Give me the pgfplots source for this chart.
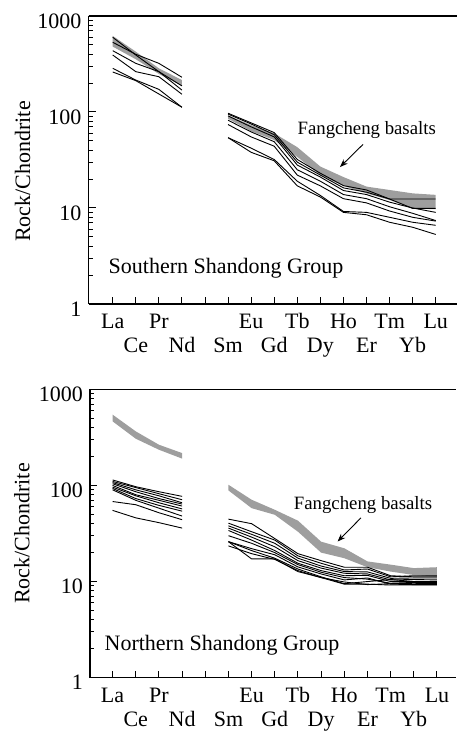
\documentclass[border=0pt]{standalone}
\usepackage{fontspec}
\setmainfont{Liberation Serif}
\usepackage{pgfplots}
\pgfplotsset{compat=1.18}
\usetikzlibrary{arrows.meta}

\pgfplotsset{
  every axis/.append style={
    scale only axis, ymode=log, ymin=1, ymax=1000,
    axis x line*=box, axis y line*=left,
    axis line style={black, line width=0.6pt},
    xtick pos=bottom, ytick pos=left, tick align=inside,
    major tick length=3.5pt, minor tick length=2pt,
    tick style={black, line width=0.5pt},
    xtick={1,3,7,9,11,13,15}, xticklabels={La,Pr,Eu,Tb,Ho,Tm,Lu},
    extra x ticks={2,4,5,6,8,10,12,14},
    extra x tick labels={Ce,Nd,{},Sm,Gd,Dy,Er,Yb},
    extra x tick style={xticklabel style={yshift=-12pt}},
    xticklabel style={anchor=base, yshift=-12.5pt, inner sep=0pt},
    ytick={1,10,100,1000}, yticklabels={1,10,100,1000},
    minor ytick={2,3,4,5,6,7,8,9,20,30,40,50,60,70,80,90,200,300,400,500,600,700,800,900},
    yticklabel style={yshift=-2.5pt},
    ylabel={Rock/Chondrite},
  },
  reeline/.style={black, line width=0.45pt, mark=none},
  reeband/.style={fill=black!38, draw=none},
}

\begin{document}
\begin{tikzpicture}[font=\fontsize{11}{13}\selectfont]
\path[use as bounding box] (0,0) rectangle (228.5pt,366pt);

% upper panel
\begin{axis}[at={(44.25pt,214pt)}, anchor=south west,
  width=184pt, height=144pt, xmin=-0.05, xmax=15.9,
  ylabel style={at={(axis description cs:-0.179,0.46)}, anchor=center}]
\addplot[reeband] coordinates {(1,620)(2,425)(3,285)(4,215)(4,187)(3,249)(2,354)(1,480)} -- cycle;
\addplot[reeband] coordinates {(6,92)(7,73)(8,60)(9,43)(10,27)(11,21)(12,16.7)(13,15.4)(14,14.2)(15,13.7)
  (15,9.7)(14,9.9)(13,12.1)(12,14.2)(11,17)(10,22)(9,34)(8,51)(7,63)(6,85)} -- cycle;
% La-Nd
\addplot[reeline] coordinates {(1,532)(2,399)(3,321)(4,230)};
\addplot[reeline] coordinates {(1,600)(2,392)(3,263)(4,169)};
\addplot[reeline] coordinates {(1,435)(2,321)(3,263)(4,187)};
\addplot[reeline] coordinates {(1,392)(2,263)(3,233)(4,153)};
\addplot[reeline] coordinates {(1,285)(2,215)(3,172)(4,112)};
\addplot[reeline] coordinates {(1,261)(2,212)(3,154)(4,112)};
% Sm-Lu
\addplot[reeline] coordinates {(6,97)(7,77)(8,61)(9,32)(10,23)(11,17.1)(12,15.4)(13,12.4)(14,12.4)(15,12.4)};
\addplot[reeline] coordinates {(6,95)(7,75)(8,58)(9,30)(10,22)(11,16.2)(12,14.6)(13,12.4)(14,9.9)(15,9.9)};
\addplot[reeline] coordinates {(6,91)(7,70)(8,55)(9,28)(10,21)(11,15.2)(12,13.8)(13,11.5)(14,10)(15,9.0)};
\addplot[reeline] coordinates {(6,82)(7,62)(8,49)(9,25)(10,19)(11,13.8)(12,12.5)(13,10.3)(14,8.8)(15,7.4)};
\addplot[reeline] coordinates {(6,74)(7,55)(8,44)(9,22)(10,17)(11,12.5)(12,11.3)(13,9.3)(14,8.0)(15,7.3)};
\addplot[reeline] coordinates {(6,54)(7,42)(8,32)(9,19)(10,13.5)(11,9.2)(12,9.0)(13,8.0)(14,7.1)(15,6.6)};
\addplot[reeline] coordinates {(6,54)(7,38)(8,31)(9,17)(10,13)(11,9.0)(12,8.5)(13,7.1)(14,6.3)(15,5.3)};
\node[anchor=base west, inner sep=0pt] at (axis cs:0.81,2.1) {Southern Shandong Group};
\node[anchor=base, inner sep=0pt, font=\fontsize{9.4}{11}\selectfont] at (axis cs:12.01,57.6) {Fangcheng basalts};
\draw[-{Stealth[length=4pt,width=3pt]}, line width=0.45pt] (axis cs:11.85,46) -- (axis cs:10.85,26.7);
\end{axis}

% lower panel
\begin{axis}[at={(45pt,27.15pt)}, anchor=south west,
  width=183.1pt, height=144.2pt, xmin=0.025, xmax=15.83,
  ylabel style={at={(axis description cs:-0.186,0.5)}, anchor=center}]
\addplot[reeband] coordinates {(1,545)(2,365)(3,265)(4,217)(4,190)(3,235)(2,306)(1,464)} -- cycle;
\addplot[reeband] coordinates {(6,101.6)(7,71)(8,55.8)(9,43)(10,26)(11,22.2)(12,16.2)(13,15)(14,13.8)(15,14.1)
  (15,11.3)(14,11.7)(13,12.7)(12,14.1)(11,17.5)(10,20)(9,33)(8,49.5)(7,58)(6,88.7)} -- cycle;
% La-Nd
\addplot[reeline] coordinates {(1,114)(2,97)(3,86)(4,77)};
\addplot[reeline] coordinates {(1,110)(2,95)(3,82)(4,71)};
\addplot[reeline] coordinates {(1,107)(2,90)(3,78)(4,66)};
\addplot[reeline] coordinates {(1,104)(2,86)(3,73)(4,64)};
\addplot[reeline] coordinates {(1,100)(2,80)(3,70)(4,61)};
\addplot[reeline] coordinates {(1,96)(2,78)(3,66)(4,57)};
\addplot[reeline] coordinates {(1,93)(2,73)(3,62)(4,54)};
\addplot[reeline] coordinates {(1,90)(2,70)(3,58)(4,48)};
\addplot[reeline] coordinates {(1,68)(2,63)(3,52)(4,44)};
\addplot[reeline] coordinates {(1,55)(2,46)(3,41)(4,36)};
% Sm-Lu
\addplot[reeline] coordinates {(6,44.6)(7,40)(8,28)(9,19.5)(10,16.5)(11,14.1)(12,14.1)(13,11.5)(14,11.2)(15,11.2)};
\addplot[reeline] coordinates {(6,40.5)(7,33)(8,27)(9,18.5)(10,15.5)(11,13.2)(12,13.5)(13,11.2)(14,11.5)(15,11.5)};
\addplot[reeline] coordinates {(6,38)(7,31)(8,25)(9,17.5)(10,14.5)(11,12.7)(12,12.6)(13,10.8)(14,10.9)(15,10.9)};
\addplot[reeline] coordinates {(6,36)(7,29)(8,23)(9,16.5)(10,13.8)(11,12.2)(12,12.0)(13,10.4)(14,10.5)(15,10.4)};
\addplot[reeline] coordinates {(6,34)(7,27)(8,21)(9,15.5)(10,13.0)(11,11.5)(12,11.6)(13,10.0)(14,10.0)(15,10.0)};
\addplot[reeline] coordinates {(6,30)(7,25)(8,20)(9,15)(10,12.5)(11,11.0)(12,10.6)(13,9.6)(14,9.8)(15,9.8)};
\addplot[reeline] coordinates {(6,26)(7,22)(8,19)(9,14.2)(10,12)(11,10.4)(12,10.9)(13,9.4)(14,9.3)(15,9.3)};
\addplot[reeline] coordinates {(6,26)(7,21)(8,17.5)(9,13.5)(10,11.2)(11,9.5)(12,10.0)(13,10.5)(14,10.0)(15,9.6)};
\addplot[reeline] coordinates {(6,23.5)(7,19.5)(8,17)(9,13)(10,11)(11,9.4)(12,9.4)(13,9.2)(14,9.2)(15,9.2)};
\addplot[reeline] coordinates {(6,26)(7,17.2)(8,17.2)(9,12.7)(10,11)(11,9.9)(12,9.3)(13,9.5)(14,9.6)(15,9.5)};
\node[anchor=base west, inner sep=0pt] at (axis cs:0.64,1.94) {Northern Shandong Group};
\node[anchor=base, inner sep=0pt, font=\fontsize{9.4}{11}\selectfont] at (axis cs:11.81,55.8) {Fangcheng basalts};
\draw[-{Stealth[length=4pt,width=3pt]}, line width=0.45pt] (axis cs:11.72,46) -- (axis cs:10.71,26.1);
\end{axis}
\end{tikzpicture}
\end{document}
